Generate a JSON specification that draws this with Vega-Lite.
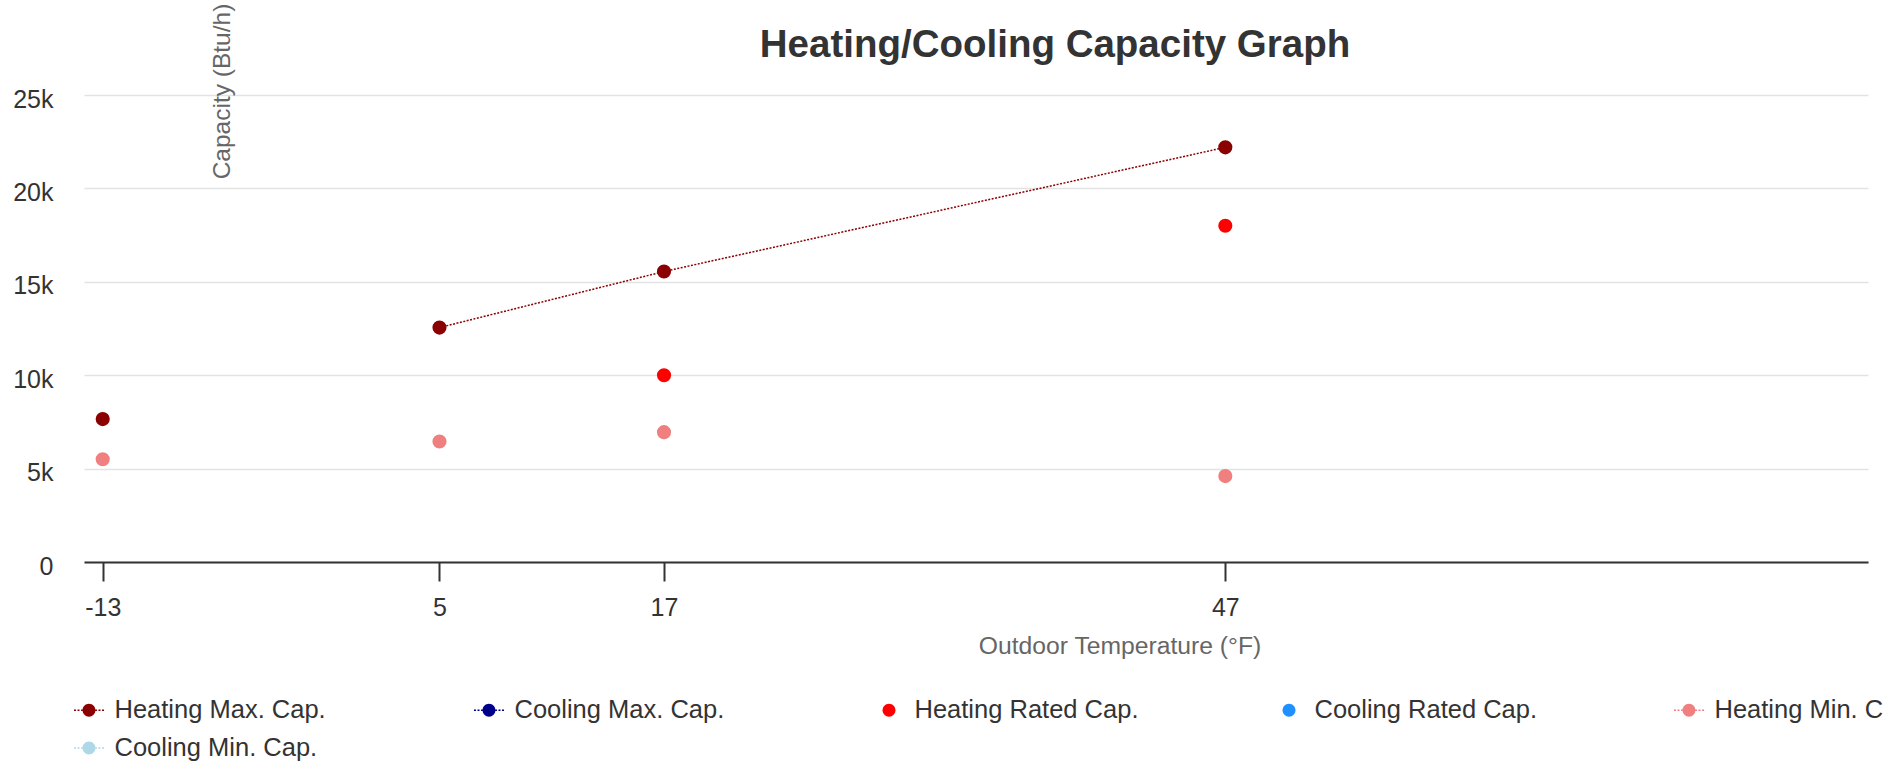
{
  "$schema": "https://vega.github.io/schema/vega-lite/v6.json",
  "autosize": {"type": "none"},
  "padding": {"left": 84, "top": 95, "right": 16, "bottom": 207},
  "width": 1784,
  "height": 467,
  "background": "white",
  "config": {"font": "Liberation Sans", "view": {"stroke": null}},
  "title": {"text": "Heating/Cooling Capacity Graph", "fontSize": 38.5, "fontWeight": "bold", "color": "#333333", "anchor": "middle", "frame": "group", "dx": 79, "offset": 0, "dy": 92, "baseline": "alphabetic"},
  "data": {"values": [
    {"temp": -13, "cap": 7650, "series": "Heating Max. Cap."},
    {"temp": 5, "cap": 12550, "series": "Heating Max. Cap."},
    {"temp": 17, "cap": 15550, "series": "Heating Max. Cap."},
    {"temp": 47, "cap": 22200, "series": "Heating Max. Cap."},
    {"temp": 17, "cap": 10000, "series": "Heating Rated Cap."},
    {"temp": 47, "cap": 18000, "series": "Heating Rated Cap."},
    {"temp": -13, "cap": 5500, "series": "Heating Min. Cap."},
    {"temp": 5, "cap": 6450, "series": "Heating Min. Cap."},
    {"temp": 17, "cap": 6950, "series": "Heating Min. Cap."},
    {"temp": 47, "cap": 4600, "series": "Heating Min. Cap."}
  ]},
  "encoding": {
    "x": {"field": "temp", "type": "quantitative", "scale": {"domain": [-14, 81.35], "nice": false, "zero": false},
      "axis": {"values": [-13, 5, 17, 47], "labelExpr": "'' + datum.value", "title": "Outdoor Temperature (°F)", "grid": false, "labelFlush": false,
        "domainColor": "#333333", "domainWidth": 2, "tickColor": "#333333", "tickWidth": 2, "tickSize": 19,
        "labelFontSize": 25, "labelColor": "#333333", "labelPadding": 14,
        "titleFontSize": 24.7, "titleFontWeight": "normal", "titleColor": "#666666", "titleX": 1035.5, "titleY": 84, "titleBaseline": "middle", "titleAlign": "center"}},
    "y": {"field": "cap", "type": "quantitative", "scale": {"domain": [0, 25000], "nice": false},
      "axis": {"values": [0, 5000, 10000, 15000, 20000, 25000], "labelExpr": "datum.value === 0 ? '0' : (datum.value / 1000) + 'k'", "title": "Capacity (Btu/h)",
        "domain": false, "ticks": false, "gridColor": "#e3e3e3", "gridWidth": 1.5,
        "labelFontSize": 25, "labelColor": "#333333", "labelPadding": 31, "labelBaseline": "middle", "labelOffset": 4,
        "titleFontSize": 24.5, "titleFontWeight": "normal", "titleColor": "#666666", "titleX": 138, "titleY": -4, "titleAngle": -90, "titleBaseline": "middle", "titleAlign": "center"}}
  },
  "layer": [
    {
      "transform": [{"filter": "datum.series === 'Heating Max. Cap.' && datum.temp >= 5"}],
      "mark": {"type": "line", "color": "#8B0000", "strokeWidth": 1.5, "strokeDash": [2, 1.5]},
      "encoding": {}
    },
    {
      "mark": {"type": "point", "filled": true, "size": 200, "opacity": 1},
      "encoding": {
        "color": {"field": "series", "type": "nominal",
          "scale": {"domain": ["Heating Max. Cap.", "Cooling Max. Cap.", "Heating Rated Cap.", "Cooling Rated Cap.", "Heating Min. Cap.", "Cooling Min. Cap."],
            "range": ["#8B0000", "#00008B", "#FF0000", "#1E90FF", "#F08080", "#ADD8E6"]},
          "legend": {"title": null, "orient": "none", "legendX": -10, "legendY": 600, "direction": "horizontal", "columns": 5, "columnPadding": 135, "rowPadding": 9, "gridAlign": "all", "symbolSize": 900, "labelFontSize": 25.5, "labelColor": "#333333", "labelLimit": 400, "labelOffset": 10.5, "padding": 0, "symbolStrokeWidth": 0, "symbolOpacity": 1}
        }
      }
    },
    {
      "transform": [{"filter": "datum.cap < 0"}],
      "mark": {"type": "point", "filled": true, "size": 200, "opacity": 1},
      "encoding": {
        "color": {"field": "series", "type": "nominal",
          "scale": {"domain": ["Heating Max. Cap.", "Cooling Max. Cap.", "Heating Rated Cap.", "Cooling Rated Cap.", "Heating Min. Cap.", "Cooling Min. Cap."],
            "range": ["#8B0000", "#00008B", "#FF0000", "#1E90FF", "#F08080", "#ADD8E6"]},
          "legend": {"title": null, "orient": "none", "legendX": -10, "legendY": 600, "direction": "horizontal", "columns": 5, "columnPadding": 135, "rowPadding": 9, "gridAlign": "all", "symbolSize": 900, "labelFontSize": 25.5, "labelColor": "#333333", "labelLimit": 400, "labelOffset": 10.5, "padding": 0, "symbolStrokeWidth": 0, "symbolOpacity": 1}
        },
        "shape": {"field": "series", "type": "nominal",
          "scale": {"domain": ["Heating Max. Cap.", "Cooling Max. Cap.", "Heating Rated Cap.", "Cooling Rated Cap.", "Heating Min. Cap.", "Cooling Min. Cap."],
            "range": [
              "M-1,-0.05H-0.867V0.05H-1Z M-0.767,-0.05H-0.633V0.05H-0.767Z M-0.533,-0.05H-0.43V0.05H-0.533Z M0.43,-0.05H0.533V0.05H0.43Z M0.633,-0.05H0.767V0.05H0.633Z M0.867,-0.05H1V0.05H0.867Z M-0.43,0A0.43,0.43 0 1,0 0.43,0A0.43,0.43 0 1,0 -0.43,0Z",
              "M-1,-0.05H-0.867V0.05H-1Z M-0.767,-0.05H-0.633V0.05H-0.767Z M-0.533,-0.05H-0.43V0.05H-0.533Z M0.43,-0.05H0.533V0.05H0.43Z M0.633,-0.05H0.767V0.05H0.633Z M0.867,-0.05H1V0.05H0.867Z M-0.43,0A0.43,0.43 0 1,0 0.43,0A0.43,0.43 0 1,0 -0.43,0Z",
              "M-0.43,0A0.43,0.43 0 1,0 0.43,0A0.43,0.43 0 1,0 -0.43,0Z",
              "M-0.43,0A0.43,0.43 0 1,0 0.43,0A0.43,0.43 0 1,0 -0.43,0Z",
              "M-1,-0.05H-0.867V0.05H-1Z M-0.767,-0.05H-0.633V0.05H-0.767Z M-0.533,-0.05H-0.43V0.05H-0.533Z M0.43,-0.05H0.533V0.05H0.43Z M0.633,-0.05H0.767V0.05H0.633Z M0.867,-0.05H1V0.05H0.867Z M-0.43,0A0.43,0.43 0 1,0 0.43,0A0.43,0.43 0 1,0 -0.43,0Z",
              "M-1,-0.05H-0.867V0.05H-1Z M-0.767,-0.05H-0.633V0.05H-0.767Z M-0.533,-0.05H-0.43V0.05H-0.533Z M0.43,-0.05H0.533V0.05H0.43Z M0.633,-0.05H0.767V0.05H0.633Z M0.867,-0.05H1V0.05H0.867Z M-0.43,0A0.43,0.43 0 1,0 0.43,0A0.43,0.43 0 1,0 -0.43,0Z"
            ]},
          "legend": {"title": null, "orient": "none", "legendX": -10, "legendY": 600, "direction": "horizontal", "columns": 5, "columnPadding": 135, "rowPadding": 9, "gridAlign": "all", "symbolSize": 900, "labelFontSize": 25.5, "labelColor": "#333333", "labelLimit": 400, "labelOffset": 10.5, "padding": 0, "symbolStrokeWidth": 0, "symbolOpacity": 1}
        }
      }
    }
  ]
}
